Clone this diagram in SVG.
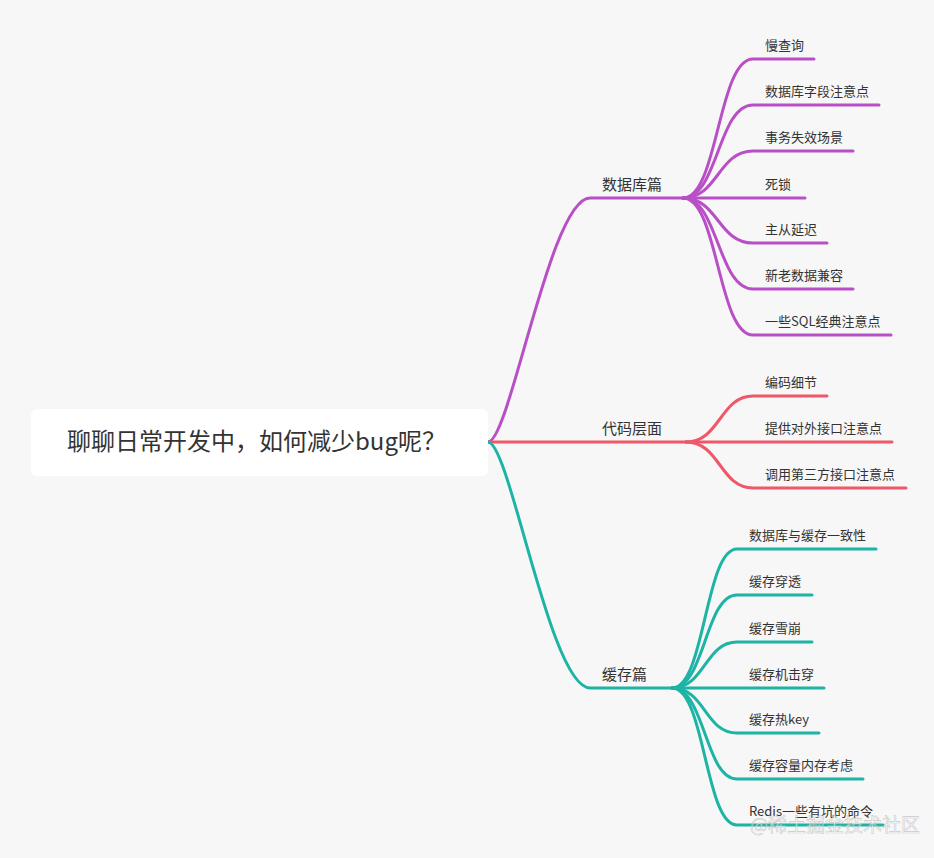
<svg xmlns="http://www.w3.org/2000/svg" width="934" height="858" viewBox="0 0 934 858">
<style>
  text { font-family: "Noto Sans CJK SC", "Noto Sans", sans-serif; fill: #333; }
  .root { font-size: 24px; }
  .b { font-size: 15px; }
  .c { font-size: 13px; }
  .l { fill: none; stroke-width: 3; stroke-linecap: round; stroke-linejoin: round; }
  .p { stroke: #b94fc6; }
  .r { stroke: #ee5868; }
  .t { stroke: #1db4a5; }
  .wm { font-size: 19px; fill: #ffffff; fill-opacity: 0.55; stroke: #9a9a9a; stroke-opacity: 0.5; stroke-width: 0.6; }
</style>
<rect x="0" y="0" width="934" height="858" fill="#f7f7f7"/>
<g id="connectors">
  <path class="l p" d="M488,442 C510,442 550,198 590,198 L683,198"/>
  <path class="l r" d="M488,442 L686,442"/>
  <path class="l t" d="M488,442 C510,442 550,688 590,688 L672,688"/>
  <path class="l p" d="M683,198 C718,198 718,59 753,59 L814,59"/>
  <path class="l p" d="M683,198 C718,198 718,105 753,105 L879,105"/>
  <path class="l p" d="M683,198 C718,198 718,151 753,151 L853,151"/>
  <path class="l p" d="M683,198 L805,198"/>
  <path class="l p" d="M683,198 C718,198 718,243 753,243 L827,243"/>
  <path class="l p" d="M683,198 C718,198 718,289 753,289 L853,289"/>
  <path class="l p" d="M683,198 C718,198 718,335 753,335 L891,335"/>
  <path class="l r" d="M686,442 C720,442 720,396 753,396 L827,396"/>
  <path class="l r" d="M686,442 L892,442"/>
  <path class="l r" d="M686,442 C720,442 720,488 753,488 L906,488"/>
  <path class="l t" d="M672,688 C705,688 705,549 737,549 L876,549"/>
  <path class="l t" d="M672,688 C705,688 705,595 737,595 L812,595"/>
  <path class="l t" d="M672,688 C705,688 705,642 737,642 L812,642"/>
  <path class="l t" d="M672,688 L824,688"/>
  <path class="l t" d="M672,688 C705,688 705,733 737,733 L819,733"/>
  <path class="l t" d="M672,688 C705,688 705,779 737,779 L863,779"/>
  <path class="l t" d="M672,688 C705,688 705,825 737,825 L883,825"/>
</g>
<g id="root">
  <rect x="31" y="409" width="457" height="67" rx="6" fill="#ffffff"/>
  <text class="root" x="67" y="450">聊聊日常开发中，如何减少bug呢？</text>
</g>
<g id="n-db"><text class="b" x="602" y="190">数据库篇</text></g>
<g id="n-code"><text class="b" x="602" y="434">代码层面</text></g>
<g id="n-cache"><text class="b" x="602" y="680">缓存篇</text></g>
<g id="db-1"><text class="c" x="765" y="50">慢查询</text></g>
<g id="db-2"><text class="c" x="765" y="96">数据库字段注意点</text></g>
<g id="db-3"><text class="c" x="765" y="142">事务失效场景</text></g>
<g id="db-4"><text class="c" x="765" y="189">死锁</text></g>
<g id="db-5"><text class="c" x="765" y="234">主从延迟</text></g>
<g id="db-6"><text class="c" x="765" y="280">新老数据兼容</text></g>
<g id="db-7"><text class="c" x="765" y="326">一些SQL经典注意点</text></g>
<g id="code-1"><text class="c" x="765" y="387">编码细节</text></g>
<g id="code-2"><text class="c" x="765" y="433">提供对外接口注意点</text></g>
<g id="code-3"><text class="c" x="765" y="479">调用第三方接口注意点</text></g>
<g id="cache-1"><text class="c" x="749" y="540">数据库与缓存一致性</text></g>
<g id="cache-2"><text class="c" x="749" y="586">缓存穿透</text></g>
<g id="cache-3"><text class="c" x="749" y="633">缓存雪崩</text></g>
<g id="cache-4"><text class="c" x="749" y="679">缓存机击穿</text></g>
<g id="cache-5"><text class="c" x="749" y="724">缓存热key</text></g>
<g id="cache-6"><text class="c" x="749" y="770">缓存容量内存考虑</text></g>
<g id="cache-7"><text class="c" x="749" y="816">Redis一些有坑的命令</text></g>
<text class="wm" x="750" y="832">@稀土掘金技术社区</text>
</svg>
